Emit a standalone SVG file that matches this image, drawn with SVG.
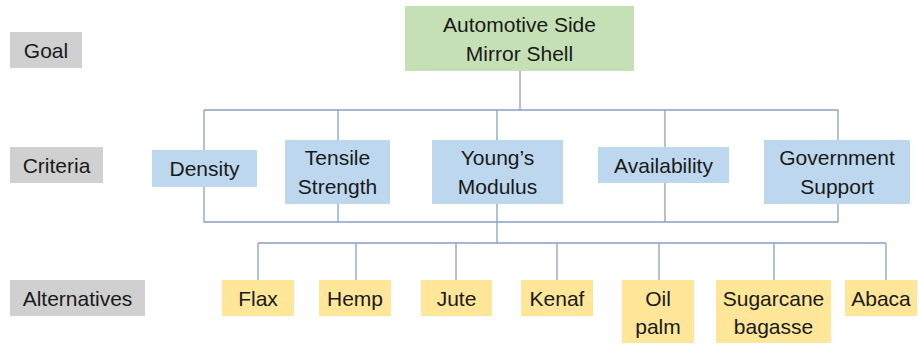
<svg xmlns="http://www.w3.org/2000/svg" width="919" height="344" viewBox="0 0 919 344">
<style>
text{font-family:"Liberation Sans",Arial,sans-serif;font-size:21px;fill:#1a1a1a;text-anchor:middle}
.lvl{fill:#d0d0d0}
.goal{fill:#c5e0b4}
.crit{fill:#bdd7ee}
.alt{fill:#ffe699}
.ln{stroke:#8a9fc4;stroke-width:1.3;fill:none}
</style>
<rect width="919" height="344" fill="#ffffff"/>
<g id="connectors">
<path class="ln" d="M520 71V110M204 110H838M204 110V222H838V110M338 110V222M497 110V243M665 110V222"/>
<path class="ln" d="M258 243H886M258 243V280M356 243V280M456 243V280M557 243V280M659 243V280M774 243V280M886 243V280"/>
</g>
<g id="label-goal"><rect class="lvl" x="10" y="32" width="72" height="36"/><text x="46" y="57.5">Goal</text></g>
<g id="label-criteria"><rect class="lvl" x="10" y="147" width="93" height="36"/><text x="56.5" y="172.5">Criteria</text></g>
<g id="label-alternatives"><rect class="lvl" x="10" y="280" width="135" height="36"/><text x="77.5" y="305.5">Alternatives</text></g>
<g id="goal"><rect class="goal" x="405" y="6" width="229" height="65"/><text x="519.5" y="32">Automotive Side</text><text x="519.5" y="60.5">Mirror Shell</text></g>
<g id="density"><rect class="crit" x="152" y="150" width="105" height="37"/><text x="204.5" y="176">Density</text></g>
<g id="tensile"><rect class="crit" x="285" y="140" width="105" height="64"/><text x="337.5" y="165">Tensile</text><text x="337.5" y="193.5">Strength</text></g>
<g id="youngs"><rect class="crit" x="432" y="140" width="131" height="64"/><text x="497.5" y="165">Young’s</text><text x="497.5" y="193.5">Modulus</text></g>
<g id="availability"><rect class="crit" x="598" y="147" width="131" height="36"/><text x="663.5" y="172.5">Availability</text></g>
<g id="government"><rect class="crit" x="764" y="140" width="146" height="64"/><text x="837" y="165">Government</text><text x="837" y="193.5">Support</text></g>
<g id="flax"><rect class="alt" x="222" y="280" width="72" height="36"/><text x="258" y="305.5">Flax</text></g>
<g id="hemp"><rect class="alt" x="319" y="280" width="72" height="36"/><text x="355" y="305.5">Hemp</text></g>
<g id="jute"><rect class="alt" x="421" y="280" width="71" height="36"/><text x="456.5" y="305.5">Jute</text></g>
<g id="kenaf"><rect class="alt" x="521" y="280" width="72" height="36"/><text x="557" y="305.5">Kenaf</text></g>
<g id="oilpalm"><rect class="alt" x="622" y="280" width="72" height="63"/><text x="658" y="305.5">Oil</text><text x="658" y="333.5">palm</text></g>
<g id="sugarcane"><rect class="alt" x="716" y="280" width="115" height="63"/><text x="773.5" y="305.5">Sugarcane</text><text x="773.5" y="333.5">bagasse</text></g>
<g id="abaca"><rect class="alt" x="845" y="280" width="72" height="36"/><text x="881" y="305.5">Abaca</text></g>
</svg>
